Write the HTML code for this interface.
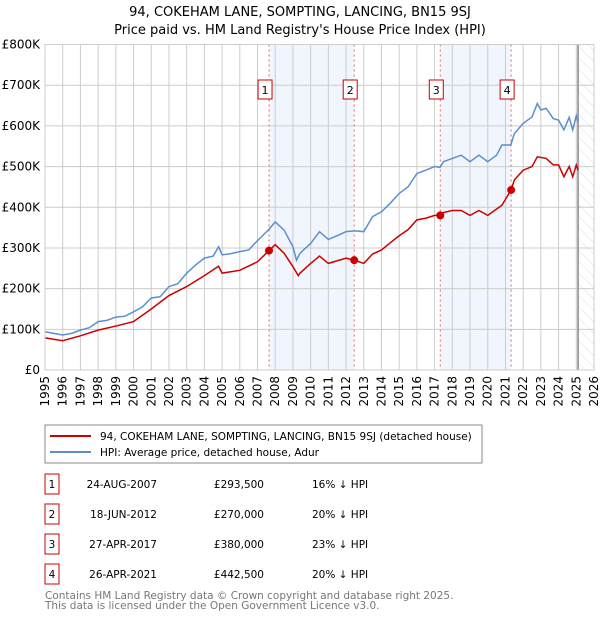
<!DOCTYPE html>
<html><head><meta charset="utf-8"><style>
body{margin:0;background:#fff;font-family:"Liberation Sans","DejaVu Sans",sans-serif;}
svg text{font-family:"DejaVu Sans","Liberation Sans",sans-serif;}
</style></head><body>
<svg id="c" width="600" height="620" xmlns="http://www.w3.org/2000/svg">
<defs><pattern id="hatch" width="8" height="8" patternUnits="userSpaceOnUse" patternTransform="rotate(-45)"><line x1="0" y1="0" x2="0" y2="8" stroke="#ddd" stroke-width="1"/></pattern></defs>
<text x="300" y="16" text-anchor="middle" font-size="13">94, COKEHAM LANE, SOMPTING, LANCING, BN15 9SJ</text>
<text x="300" y="34" text-anchor="middle" font-size="13">Price paid vs. HM Land Registry's House Price Index (HPI)</text>
<g id="plot"></g>
<rect x="45" y="425" width="437" height="38" fill="#fff" stroke="#888"/>
<line x1="50" y1="436" x2="91" y2="436" stroke="#cc0000" stroke-width="2"/>
<text x="100" y="440" font-size="10.5">94, COKEHAM LANE, SOMPTING, LANCING, BN15 9SJ (detached house)</text>
<line x1="50" y1="452" x2="91" y2="452" stroke="#5b8fd0" stroke-width="2"/>
<text x="100" y="456" font-size="10.5">HPI: Average price, detached house, Adur</text>
<g id="table" font-size="10.5"></g>
<text x="45" y="599" font-size="10.5" fill="#777">Contains HM Land Registry data © Crown copyright and database right 2025.</text>
<text x="45" y="609" font-size="10.5" fill="#777">This data is licensed under the Open Government Licence v3.0.</text>
</svg>
<script>
const hpiYears=[1995,1995.5,1996,1996.5,1997,1997.5,1998,1998.5,1999,1999.5,2000,2000.5,2001,2001.5,2002,2002.5,2003,2003.5,2004,2004.5,2004.8,2005,2005.5,2006,2006.5,2007,2007.65,2008,2008.5,2009,2009.2,2009.4,2010,2010.5,2011,2011.5,2012,2012.5,2013,2013.5,2014,2014.5,2015,2015.5,2016,2016.5,2017,2017.3,2017.5,2018,2018.5,2019,2019.5,2020,2020.5,2020.8,2021,2021.3,2021.5,2022,2022.5,2022.8,2023,2023.3,2023.7,2024,2024.3,2024.6,2024.8,2025,2025.1];
const hpiValues=[94,90,86,90,98,104,119,122,130,132,143,155,177,180,205,212,238,258,275,280,303,283,286,291,295,318,346,364,344,303,270,287,311,340,321,330,340,342,340,377,389,410,434,450,483,491,500,498,512,520,528,512,528,512,528,553,553,553,581,606,622,655,639,643,618,614,590,621,590,625,609];
const ppYears=[1995,1996,1997,1998,1999,2000,2001,2002,2003,2004,2004.8,2005,2006,2007,2007.65,2008,2008.5,2009,2009.3,2009.4,2010,2010.5,2011,2012,2012.46,2013,2013.5,2014,2014.5,2015,2015.5,2016,2016.5,2017,2017.32,2017.5,2018,2018.5,2019,2019.5,2020,2020.8,2021.32,2021.5,2022,2022.5,2022.8,2023.3,2023.7,2024,2024.3,2024.6,2024.8,2025,2025.1];
const ppValues=[79,72,84,98,108,119,150,183,205,232,255,238,245,266,293.5,308,287,254,232,238,262,280,262,275,270,262,285,295,313,330,345,369,373,380,380,387,392,392,380,392,380,405,442.5,467,491,500,524,520,504,504,475,500,475,504,491];
const saleYears=[2007.65,2012.46,2017.32,2021.32];
const salePrices=[293.5,270,380,442.5];
const saleLabels=["1","2","3","4"];
const saleDates=["24-AUG-2007","18-JUN-2012","27-APR-2017","26-APR-2021"];
const salePriceText=["£293,500","£270,000","£380,000","£442,500"];
const saleDiff=["16% ↓ HPI","20% ↓ HPI","23% ↓ HPI","20% ↓ HPI"];
const yTicks=[0,100,200,300,400,500,600,700,800];
const yTickLabels=["£0","£100K","£200K","£300K","£400K","£500K","£600K","£700K","£800K"];
const xTicks=[1995,1996,1997,1998,1999,2000,2001,2002,2003,2004,2005,2006,2007,2008,2009,2010,2011,2012,2013,2014,2015,2016,2017,2018,2019,2020,2021,2022,2023,2024,2025,2026];
const dataEnd=2025.1;

const X0=45,X1=594,Y0=370,Y1=44.5;
const x=v=>X0+(v-1995)/(2026-1995)*(X1-X0);
const y=v=>Y0-v/800*(Y0-Y1);
const NS="http://www.w3.org/2000/svg";
const plot=document.getElementById('plot');
function mk(tag,attrs,parent){const e=document.createElementNS(NS,tag);for(const k in attrs)e.setAttribute(k,attrs[k]);(parent||plot).appendChild(e);return e;}

for(let i=0;i<saleYears.length;i+=2){
 const r=mk('rect',{x:x(saleYears[i]),y:Y1,width:x(saleYears[i+1])-x(saleYears[i]),height:Y0-Y1,fill:'#eef2fc',opacity:0.8});
 
 
}
const h=mk('rect',{x:x(dataEnd),y:Y1,width:X1-x(dataEnd),height:Y0-Y1,fill:'url(#hatch)'});


xTicks.forEach(t=>{
 const l=mk('line',{x1:x(t),x2:x(t),y1:Y1,y2:Y0,stroke:'#ccc'});
 
 
 const tx=mk('text',{x:0,y:0,'font-size':12,'text-anchor':'end',transform:`translate(${x(t)+4},${Y0+6}) rotate(-90)`});
 tx.textContent=t;
 
 
});
yTicks.forEach((t,i)=>{
 const l=mk('line',{x1:X0,x2:X1,y1:y(t),y2:y(t),stroke:'#ccc'});
 
 
 const tx=mk('text',{x:X0-5,y:y(t)+4,'font-size':12,'text-anchor':'end'});
 tx.textContent=yTickLabels[i];
 
 
});
const el=mk('line',{x1:x(dataEnd),x2:x(dataEnd),y1:Y1,y2:Y0,stroke:'#888','stroke-width':1.5});


saleYears.forEach((s,i)=>{
 const l=mk('line',{x1:x(s),x2:x(s),y1:Y1,y2:Y0,stroke:'#e66','stroke-dasharray':'2,3'});
 
 
 const b=mk('rect',{x:x(s)-11,y:80,width:14,height:19,fill:'#fff',stroke:'#cc0000'});
 
 
 const t=mk('text',{x:x(s)-4,y:94,'font-size':11,'text-anchor':'middle'});
 t.textContent=saleLabels[i];
 
 
});
const hp=mk('polyline',{points:hpiYears.map((v,i)=>x(v)+','+y(hpiValues[i])).join(' '),fill:'none',stroke:'#5b8fd0','stroke-width':1.5});


const pp=mk('polyline',{points:ppYears.map((v,i)=>x(v)+','+y(ppValues[i])).join(' '),fill:'none',stroke:'#cc0000','stroke-width':1.5});


saleYears.forEach((s,i)=>{
 const c=mk('circle',{cx:x(s),cy:y(salePrices[i]),r:4,fill:'#cc0000'});
 
 
});
const fr=mk('rect',{x:X0,y:Y1,width:X1-X0,height:Y0-Y1,fill:'none',stroke:'#ccc'});



const tb=document.getElementById('table');
saleYears.forEach((s,i)=>{
 const yy=487+i*30;
 const b=mk('rect',{x:45,y:yy-13,width:14,height:20,fill:'#fff',stroke:'#cc0000'},tb);
 
 
 const cols=[[52,saleLabels[i],'middle'],[157,saleDates[i],'end'],[264,salePriceText[i],'end'],[312,saleDiff[i],'start']];
 cols.forEach(c=>{
  const t=mk('text',{x:c[0],y:yy+1,'text-anchor':c[2],'font-size':10.5},tb);
  t.textContent=c[1];
  
  
 });
});
</script>
</body></html>
